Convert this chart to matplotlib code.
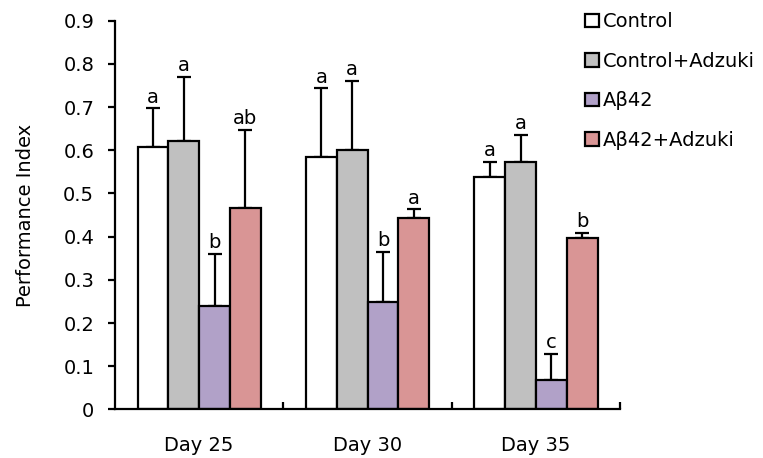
import numpy as np
import matplotlib.pyplot as plt

days = ['Day 25', 'Day 30', 'Day 35']
groups = ['Control', 'Control+Adzuki', 'Aβ42', 'Aβ42+Adzuki']
colors = ['#ffffff', '#c0c0c0', '#b1a1c8', '#d99595']

control = [0.608, 0.585, 0.539]
control_adz = [0.621, 0.600, 0.573]
abeta = [0.240, 0.248, 0.068]
abeta_adz = [0.467, 0.442, 0.396]

control_err = [0.089, 0.158, 0.034]
control_adz_err = [0.149, 0.161, 0.062]
abeta_err = [0.120, 0.116, 0.060]
abeta_adz_err = [0.180, 0.021, 0.012]

letters = [['a', 'a', 'a'], ['a', 'a', 'a'], ['b', 'b', 'c'], ['ab', 'a', 'b']]

means = [control, control_adz, abeta, abeta_adz]
errs = [control_err, control_adz_err, abeta_err, abeta_adz_err]

plt.rcParams['font.family'] = ['DejaVu Sans']
fs = 14

fig = plt.figure(figsize=(7.63, 4.58), dpi=100)
ax = fig.add_axes([0.1507, 0.106, 0.662, 0.849])

x = np.arange(len(days))
w = 0.183
for i in range(4):
    pos = x + (i - 1.5) * w
    ax.bar(pos, means[i], w, color=colors[i], edgecolor='black', linewidth=1.6,
           label=groups[i], zorder=2)
    ax.errorbar(pos, means[i], yerr=[np.zeros(3), errs[i]], fmt='none',
                ecolor='black', elinewidth=1.6, capsize=5, capthick=1.6, zorder=1)
    for j in range(3):
        ax.text(pos[j], means[i][j] + errs[i][j] + 0.004, letters[i][j],
                ha='center', va='bottom', fontsize=fs)

ax.set_xlim(-0.5, 2.5)
ax.set_ylim(0, 0.9)
ax.set_yticks(np.arange(0, 0.91, 0.1))
ax.set_yticklabels(['0'] + ['%.1f' % v for v in np.arange(0.1, 0.91, 0.1)])
ax.set_xticks(x)
ax.set_xticklabels(days)
ax.set_xticks([0.5, 1.5, 2.5], minor=True)
ax.tick_params(axis='x', which='major', length=0, pad=19, labelsize=fs)
ax.tick_params(axis='x', which='minor', direction='in', length=5, width=1.6)
ax.tick_params(axis='y', direction='out', length=5, width=1.6, labelsize=fs, pad=10)
ax.spines['top'].set_visible(False)
ax.spines['right'].set_visible(False)
ax.spines['left'].set_linewidth(1.6)
ax.spines['bottom'].set_linewidth(1.6)
ax.set_ylabel('Performance Index', fontsize=fs, labelpad=20)

fig.legend(loc='upper left', bbox_to_anchor=(0.757, 0.99), frameon=False,
           fontsize=fs, handlelength=0.7, handleheight=0.7, handletextpad=0.2,
           labelspacing=1.05, borderaxespad=0)

fig.savefig('out.png', dpi=100)
